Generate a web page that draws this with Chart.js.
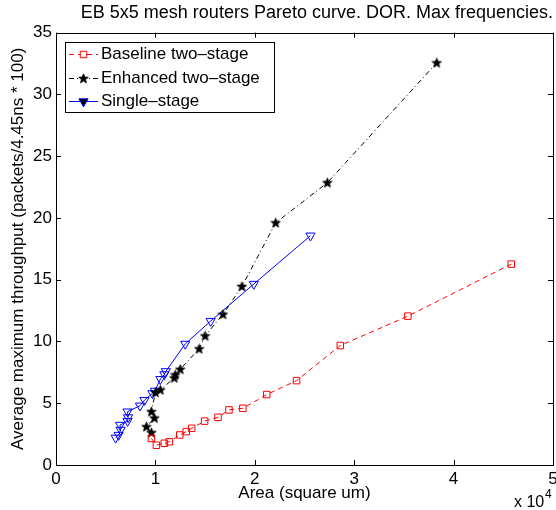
<!DOCTYPE html>
<html>
<head>
<meta charset="utf-8">
<script src="https://cdn.jsdelivr.net/npm/chart.js@4.4.0/dist/chart.umd.min.js"></script>
<style>
html, body { margin: 0; padding: 0; background: #fff; }
</style>
</head>
<body>
<canvas id="myChart" width="556" height="510"></canvas>
<script>
// values (area in square um, throughput in packets/4.45ns*100)
var baselineArea = [9600, 10100, 10900, 11400, 12450, 13100, 13650, 14950, 16300, 17400, 18800, 21200, 24200, 28600, 35400, 45800];
var baselineThr = [2.15, 1.6, 1.76, 1.88, 2.43, 2.7, 2.97, 3.55, 3.86, 4.46, 4.59, 5.7, 6.83, 9.67, 12.05, 16.26];

var enhancedArea = [9600, 9100, 9900, 9600, 10000, 10500, 11900, 12000, 12500, 14400, 15000, 16800, 18700, 22100, 27300, 38300];
var enhancedThr = [2.62, 3.1, 3.8, 4.32, 5.88, 6.08, 7.05, 7.3, 7.75, 9.4, 10.45, 12.2, 14.45, 19.6, 22.85, 32.55];

var singleArea = [6000, 6300, 6500, 6450, 7200, 7250, 7200, 8450, 8900, 9700, 9950, 10500, 10900, 11050, 13000, 15560, 19900, 25600];
var singleThr = [2.2, 2.43, 2.84, 3.24, 3.55, 3.85, 4.32, 4.8, 5.25, 5.8, 6.0, 6.95, 7.33, 7.58, 9.8, 11.65, 14.65, 18.56];

var xTicks = [0, 10000, 20000, 30000, 40000, 50000];
var yTicks = [0, 5, 10, 15, 20, 25, 30, 35];

var FONT = 'Liberation Sans, Arial, Helvetica, sans-serif';

function toPoints(xs, ys) {
    return xs.map(function (x, i) { return {x: x, y: ys[i]}; });
}

// MATLAB style pentagram marker
function makeStar() {
    var c = document.createElement('canvas');
    c.width = 11; c.height = 11;
    var g = c.getContext('2d');
    g.beginPath();
    for (var k = 0; k < 10; k++) {
        var r = (k % 2 === 0) ? 5 : 2.2;
        var a = -Math.PI / 2 + k * Math.PI / 5;
        var px = 5.5 + r * Math.cos(a), py = 5.8 + r * Math.sin(a);
        if (k === 0) g.moveTo(px, py); else g.lineTo(px, py);
    }
    g.closePath();
    g.fillStyle = '#000';
    g.fill();
    g.strokeStyle = '#000';
    g.lineWidth = 0.8;
    g.stroke();
    return c;
}
var starImg = makeStar();

// inward ticks on all four sides plus the box
var matlabAxes = {
    id: 'matlabAxes',
    afterDatasetsDraw: function (chart) {
        var ctx = chart.ctx, a = chart.chartArea;
        var xs = chart.scales.x, ys = chart.scales.y;
        ctx.save();
        ctx.strokeStyle = '#000';
        ctx.lineWidth = 1;
        ctx.beginPath();
        xTicks.forEach(function (v) {
            var px = Math.round(xs.getPixelForValue(v)) + 0.5;
            ctx.moveTo(px, a.bottom); ctx.lineTo(px, a.bottom - 5);
            ctx.moveTo(px, a.top); ctx.lineTo(px, a.top + 5);
        });
        yTicks.forEach(function (v) {
            var py = Math.round(ys.getPixelForValue(v)) + 0.5;
            ctx.moveTo(a.left, py); ctx.lineTo(a.left + 5, py);
            ctx.moveTo(a.right, py); ctx.lineTo(a.right - 5, py);
        });
        ctx.stroke();
        ctx.strokeRect(Math.round(a.left) + 0.5, Math.round(a.top) + 0.5,
            Math.round(a.right - a.left), Math.round(a.bottom - a.top));

        // exponent label
        ctx.fillStyle = '#000';
        ctx.textBaseline = 'alphabetic';
        ctx.font = '16px ' + FONT;
        ctx.fillText('x 10', 514, 507);
        ctx.font = '12px ' + FONT;
        ctx.fillText('4', 545, 498);
        ctx.restore();
    }
};

// legend box inside the plot, upper left
var legendBox = {
    id: 'legendBox',
    afterDraw: function (chart) {
        var ctx = chart.ctx;
        var x0 = 65, y0 = 42, w = 209, h = 70;
        ctx.save();
        ctx.fillStyle = '#fff';
        ctx.fillRect(x0, y0, w, h);
        ctx.strokeStyle = '#000';
        ctx.lineWidth = 1;
        ctx.strokeRect(x0 + 0.5, y0 + 0.5, w, h);
        chart.data.datasets.forEach(function (ds, i) {
            var y = Math.round(y0 + 12 + i * 23.5) + 0.5;
            ctx.strokeStyle = ds.borderColor;
            ctx.setLineDash(ds.borderDash || []);
            ctx.beginPath();
            ctx.moveTo(69, y); ctx.lineTo(98, y);
            ctx.stroke();
            ctx.setLineDash([]);
            Chart.helpers.drawPoint(ctx, {
                pointStyle: ds.pointStyle,
                radius: ds.pointRadius,
                rotation: ds.pointRotation || 0,
                borderWidth: 1
            }, 83.5, y);
            ctx.fillStyle = '#000';
            ctx.font = '17px ' + FONT;
            ctx.textBaseline = 'middle';
            ctx.fillText(ds.label, 101, y);
        });
        ctx.restore();
    }
};

var ctx = document.getElementById('myChart').getContext('2d');
var myChart = new Chart(ctx, {
    type: 'scatter',
    data: {
        datasets: [{
            label: 'Baseline two\u2013stage',
            data: toPoints(baselineArea, baselineThr),
            showLine: true,
            borderColor: '#ff0000',
            backgroundColor: 'rgba(0,0,0,0)',
            borderWidth: 1,
            borderDash: [5, 4],
            pointStyle: 'rect',
            pointRadius: 4.6,
            pointBorderWidth: 1,
            pointBorderColor: '#ff0000',
            pointBackgroundColor: 'rgba(0,0,0,0)'
        },
        {
            label: 'Enhanced two\u2013stage',
            data: toPoints(enhancedArea, enhancedThr),
            showLine: true,
            borderColor: '#000000',
            backgroundColor: 'rgba(0,0,0,0)',
            borderWidth: 1,
            borderDash: [5, 3, 1, 3],
            pointStyle: starImg,
            pointRadius: 5,
            pointBorderColor: '#000000',
            pointBackgroundColor: '#000000'
        },
        {
            label: 'Single\u2013stage',
            data: toPoints(singleArea, singleThr),
            showLine: true,
            borderColor: '#0000ff',
            backgroundColor: 'rgba(0,0,0,0)',
            borderWidth: 1,
            pointStyle: 'triangle',
            pointRotation: 180,
            pointRadius: 5.3,
            pointBorderWidth: 1,
            pointBorderColor: '#0000ff',
            pointBackgroundColor: 'rgba(0,0,0,0)'
        }]
    },
    options: {
        responsive: false,
        animation: false,
        layout: {autoPadding: false, padding: {left: 0, right: 3, top: 0, bottom: 0}},
        plugins: {
            legend: {display: false},
            tooltip: {enabled: false},
            title: {
                display: true,
                text: 'EB 5x5 mesh routers Pareto curve. DOR. Max frequencies.',
                align: 'end',
                color: '#000',
                font: {family: FONT, size: 18, weight: 'normal'},
                padding: {top: 2, bottom: 9}
            }
        },
        scales: {
            x: {
                type: 'linear',
                min: 0,
                max: 50000,
                afterBuildTicks: function (s) { s.ticks = xTicks.map(function (v) { return {value: v}; }); },
                afterFit: function (s) { s.height = 45; s.paddingRight = 0; s.paddingLeft = 0; },
                grid: {display: false, drawTicks: false},
                border: {display: false},
                ticks: {
                    color: '#000',
                    padding: 4,
                    maxRotation: 0,
                    font: {family: FONT, size: 17},
                    callback: function (v) { return v / 10000; }
                },
                title: {
                    display: true,
                    text: 'Area (square um)',
                    color: '#000',
                    font: {family: FONT, size: 17},
                    padding: {top: 0, bottom: 6}
                }
            },
            y: {
                type: 'linear',
                min: 0,
                max: 35,
                afterBuildTicks: function (s) { s.ticks = yTicks.map(function (v) { return {value: v}; }); },
                afterFit: function (s) { s.width = 56; s.paddingTop = 0; s.paddingBottom = 0; },
                grid: {display: false, drawTicks: false},
                border: {display: false},
                ticks: {
                    color: '#000',
                    padding: 4,
                    font: {family: FONT, size: 17}
                },
                title: {
                    display: true,
                    text: 'Average maximum throughput (packets/4.45ns * 100)',
                    color: '#000',
                    font: {family: FONT, size: 17},
                    padding: {top: 8, bottom: 0}
                }
            }
        }
    },
    plugins: [matlabAxes, legendBox]
});
</script>
</body>
</html>
